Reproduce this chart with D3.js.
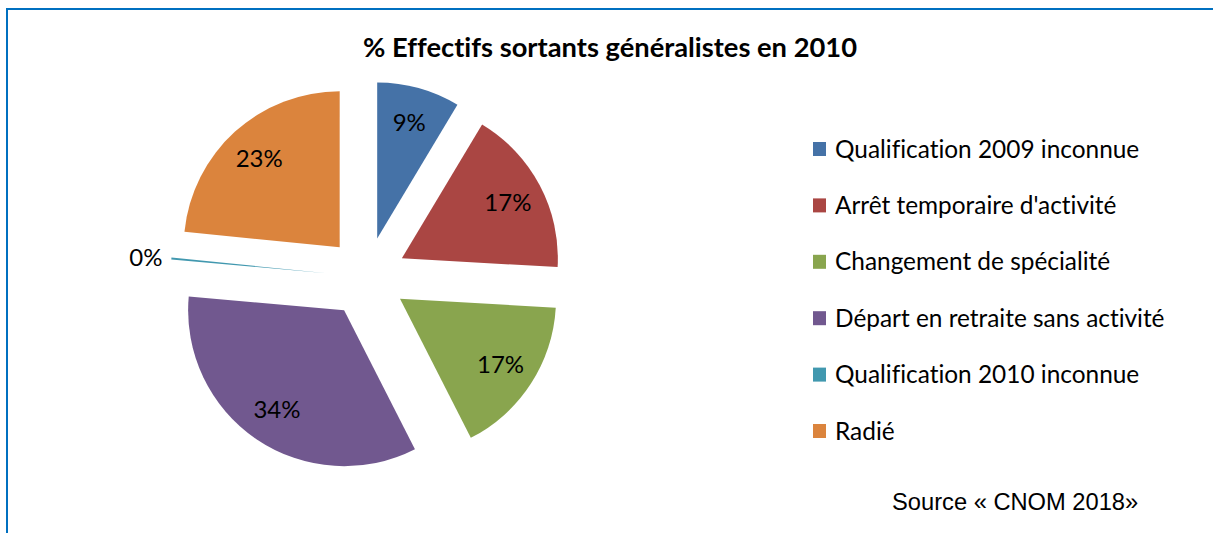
<!DOCTYPE html>
<html>
<head>
<meta charset="utf-8">
<script src="https://cdn.jsdelivr.net/npm/d3@7"></script>
<style>
  html, body { margin: 0; padding: 0; background: #fff; }
  svg { display: block; }
  text { font-variant-ligatures: none; }
</style>
</head>
<body>
<svg id="chart" width="1213" height="533"></svg>
<script>
// Exit categories for general practitioners, 2010 (percent of leavers)
const categories = [
  "Qualification 2009 inconnue",
  "Arrêt temporaire d'activité",
  "Changement de spécialité",
  "Départ en retraite sans activité",
  "Qualification 2010 inconnue",
  "Radié"
];
const shares = [8.6, 17.3, 16.6, 33.9, 0.2, 23.4];
const colors = ["#4572A7", "#AA4643", "#89A54E", "#71588F", "#4198AF", "#DB843D"];
const titleText = "% Effectifs sortants généralistes en 2010";
const sourceText = "Source « CNOM 2018»";

const W = 1213, H = 533;
const svg = d3.select("#chart");

// frame: top and left rules
svg.append("line").attr("x1", 7).attr("x2", W).attr("y1", 9).attr("y2", 9)
  .attr("stroke", "#0070C0").attr("stroke-width", 2);
svg.append("line").attr("x1", 7).attr("x2", 7).attr("y1", 8).attr("y2", H)
  .attr("stroke", "#0070C0").attr("stroke-width", 2);

svg.append("text")
  .attr("x", 610).attr("y", 57)
  .attr("text-anchor", "middle")
  .attr("font-family", "Lato, sans-serif")
  .attr("font-weight", "bold")
  .attr("font-size", 27.3)
  .attr("fill", "#000")
  .text(titleText);

// exploded pie
const cx = 366.5, cy = 277, radius = 156, explode = 40;
const total = d3.sum(shares);
const data = categories.map((c, i) => ({ name: c, value: shares[i], color: colors[i] }));
const pie = d3.pie().value(d => d.value).sort(null);
const arcs = pie(data);
const arc = d3.arc().innerRadius(0).outerRadius(radius);
const labelArc = d3.arc().innerRadius(120).outerRadius(120);
const outerLabelArc = d3.arc().innerRadius(radius + 9).outerRadius(radius + 9);

const g = svg.append("g").attr("transform", `translate(${cx},${cy})`);

const slice = g.selectAll("g.slice").data(arcs).join("g")
  .attr("class", "slice")
  .attr("transform", d => {
    const a = (d.startAngle + d.endAngle) / 2;
    return `translate(${explode * Math.sin(a)},${-explode * Math.cos(a)})`;
  });

slice.append("path")
  .attr("d", arc)
  .attr("fill", d => d.data.color);

const isTiny = d => d.data.value / total < 0.01;
const pct = d => Math.round(d.data.value / total * 100) + "%";

slice.append("text")
  .attr("transform", d => {
    const p = isTiny(d) ? outerLabelArc.centroid(d) : labelArc.centroid(d);
    return `translate(${p[0]},${p[1]})`;
  })
  .attr("text-anchor", d => isTiny(d) ? "end" : "middle")
  .attr("dy", "0.35em")
  .attr("font-family", "Lato, sans-serif")
  .attr("font-size", 24)
  .attr("fill", "#000")
  .text(pct);

// legend
const legend = svg.append("g").attr("transform", "translate(813,142)");
const rowGap = 56.4;
const item = legend.selectAll("g").data(data).join("g")
  .attr("transform", (d, i) => `translate(0,${i * rowGap})`);
item.append("rect")
  .attr("width", 13).attr("height", 14)
  .attr("fill", d => d.color);
item.append("text")
  .attr("x", 22).attr("y", 7).attr("dy", "0.35em")
  .attr("font-family", "Lato, sans-serif")
  .attr("font-size", 24.4)
  .attr("fill", "#000")
  .text(d => d.name);

svg.append("text")
  .attr("x", 892).attr("y", 510)
  .attr("font-family", "'Liberation Sans', Arial, sans-serif")
  .attr("font-size", 23.7)
  .attr("fill", "#000")
  .text(sourceText);
</script>
</body>
</html>
